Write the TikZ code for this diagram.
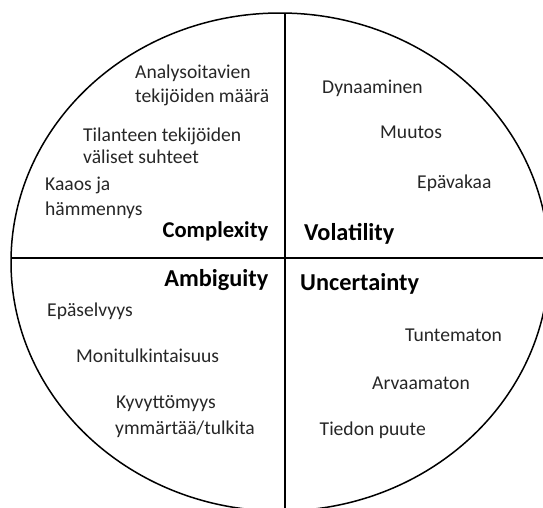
\documentclass[tikz,border=0pt]{standalone}
\usepackage{fontspec}
\setmainfont{Carlito}
\begin{document}
\begin{tikzpicture}[x=1pt,y=-1pt,
  item/.style={anchor=base west, inner sep=0pt, font=\fontsize{19.6}{23}\selectfont, text=black!85},
  head/.style={anchor=base west, inner sep=0pt, font=\fontsize{24.3}{29}\selectfont\bfseries, text=black},
  headr/.style={head, anchor=base east},
  rim/.style={line width=1.5pt},
  axis/.style={line width=2pt}]
\useasboundingbox (0,0) rectangle (543,507);
\clip (0,0) rectangle (543,507);
\coordinate (c) at (280,262);
\draw[rim] (c) ellipse [x radius=269, y radius=249];
\begin{scope}
  \clip (c) ellipse [x radius=269, y radius=249];
  \coordinate (vt) at (285,0);
  \coordinate (vb) at (285,520);
  \coordinate (hl) at (0,258);
  \coordinate (hr) at (560,258);
  \draw[axis] (vt) -- (vb);
  \draw[axis] (hl) -- (hr);
\end{scope}
% Complexity
\node[item] (c1a) at (135,78.5) {Analysoitavien};
\node[item] (c1b) at (135,102) {tekijöiden määrä};
\node[item] (c2a) at (83,141.5) {Tilanteen tekijöiden};
\node[item] (c2b) at (83,163.5) {väliset suhteet};
\node[item] (c3a) at (45,190) {Kaaos ja};
\node[item] (c3b) at (45,215) {hämmennys};
\node[headr, font=\fontsize{22.6}{27}\selectfont\bfseries] (cx) at (268.5,237) {Complexity};
% Volatility
\node[item] (v1) at (322,93) {Dynaaminen};
\node[item] (v2) at (380,138) {Muutos};
\node[item] (v3) at (417,188.5) {Epävakaa};
\node[head] (vo) at (304,240) {Volatility};
% Ambiguity
\node[headr] (am) at (268.5,286.5) {Ambiguity};
\node[item] (a1) at (47,316.5) {Epäselvyys};
\node[item] (a2) at (76,362) {Monitulkintaisuus};
\node[item] (a3a) at (116,408) {Kyvyttömyys};
\node[item] (a3b) at (115,434) {ymmärtää/tulkita};
% Uncertainty
\node[head] (un) at (300,290.5) {Uncertainty};
\node[item] (u1) at (405,341.5) {Tuntematon};
\node[item] (u2) at (372,389) {Arvaamaton};
\node[item] (u3) at (319.5,435) {Tiedon puute};
\end{tikzpicture}
\end{document}
